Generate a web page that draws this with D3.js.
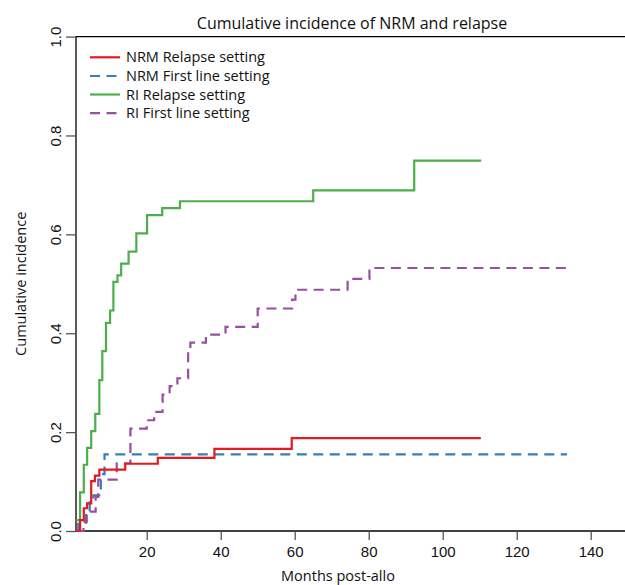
<!DOCTYPE html>
<html>
<head>
<meta charset="utf-8">
<script src="https://cdn.jsdelivr.net/npm/d3@7"></script>
<style>
  html, body { margin: 0; padding: 0; background: #fff; }
  svg { display: block; }
</style>
</head>
<body>
<div id="chart"></div>
<script>
// ---- Data ----
const seriesNames = ["NRM Relapse setting", "NRM First line setting", "RI Relapse setting", "RI First line setting"];
const seriesColors = ["#E41A1C", "#377EB8", "#4DAF4A", "#984EA3"];
const seriesDashed = [false, true, false, true];

const nrmRelapseTimes  = [1.0, 2.0, 3.0, 3.9, 5.0, 6.0, 7.2, 14.2, 23.0, 38.3, 59.2, 110.3];
const nrmRelapseValues = [0, 0.022, 0.046, 0.056, 0.101, 0.112, 0.124, 0.136, 0.148, 0.166, 0.188, 0.188];

const nrmFirstTimes  = [1.0, 1.5, 3.6, 4.6, 5.6, 7.6, 8.6, 133.6];
const nrmFirstValues = [0, 0.017, 0.040, 0.058, 0.072, 0.115, 0.155, 0.155];

const riRelapseTimes  = [0.9, 2.0, 3.0, 3.9, 5.0, 6.1, 7.2, 8.0, 9.0, 10.1, 11.0, 12.1, 13.1, 15.1, 17.2, 20.1, 24.2, 29.0, 65.0, 92.3, 110.4];
const riRelapseValues = [0.022, 0.078, 0.134, 0.168, 0.202, 0.237, 0.305, 0.364, 0.421, 0.446, 0.504, 0.517, 0.541, 0.565, 0.602, 0.639, 0.653, 0.667, 0.689, 0.749, 0.749];

const riFirstTimes  = [1.0, 2.9, 3.8, 6.2, 6.9, 11.9, 15.6, 20.0, 22.0, 24.3, 26.2, 28.3, 31.2, 31.8, 36.0, 41.3, 50.0, 59.3, 60.2, 74.3, 80.2, 134.0];
const riFirstValues = [0, 0.019, 0.039, 0.069, 0.104, 0.137, 0.207, 0.224, 0.241, 0.276, 0.293, 0.309, 0.362, 0.381, 0.397, 0.413, 0.450, 0.468, 0.488, 0.510, 0.532, 0.532];

const xTicks = [20, 40, 60, 80, 100, 120, 140];
const yTicks = [0, 0.2, 0.4, 0.6, 0.8, 1.0];

const titleText = "Cumulative incidence of NRM and relapse";
const xTitle = "Months post-allo";
const yTitle = "Cumulative incidence";

// ---- Drawing ----
const W = 625, H = 585;
const svg = d3.select("#chart").append("svg").attr("width", W).attr("height", H);

const x = d3.scaleLinear().domain([0, 140]).range([72.7, 590.7]);
const y = d3.scaleLinear().domain([0, 1]).range([531, 36.6]);

const frameLeft = 76, frameRight = 625;
const sansTick = "'Liberation Sans', Arial, sans-serif";
const sansText = "'Open Sans', 'Noto Sans', sans-serif";

// frame lines
svg.append("line").attr("x1", frameLeft).attr("x2", frameLeft).attr("y1", y(1)).attr("y2", y(0))
  .attr("stroke", "#000").attr("stroke-width", 1.3);
svg.append("line").attr("x1", frameLeft).attr("x2", frameRight).attr("y1", y(1)).attr("y2", y(1))
  .attr("stroke", "#000").attr("stroke-width", 1.3);
svg.append("line").attr("x1", frameLeft).attr("x2", frameRight).attr("y1", y(0)).attr("y2", y(0))
  .attr("stroke", "#000").attr("stroke-width", 1.3);

// x axis
const xAxis = d3.axisBottom(x).tickValues(xTicks).tickSize(9).tickPadding(6).tickFormat(d3.format("d"));
const gx = svg.append("g").attr("transform", `translate(0,${y(0)})`).call(xAxis);
gx.select(".domain").remove();
gx.selectAll(".tick line").attr("stroke", "#555").attr("stroke-width", 1.3);
gx.selectAll(".tick text").attr("font-family", sansTick).attr("font-size", 15).attr("fill", "#111");

// y axis
const yAxis = d3.axisLeft(y).tickValues(yTicks).tickSize(10).tickPadding(0).tickFormat(d3.format(".1f"));
const gy = svg.append("g").attr("transform", `translate(${frameLeft},0)`).call(yAxis);
gy.select(".domain").remove();
gy.selectAll(".tick line").attr("stroke", "#555").attr("stroke-width", 1.3);
gy.selectAll(".tick text")
  .attr("font-family", sansTick).attr("font-size", 15).attr("fill", "#111")
  .attr("x", null).attr("dy", null)
  .attr("text-anchor", "middle")
  .attr("transform", "translate(-15,0) rotate(-90)");

// series
const series = [
  { t: nrmRelapseTimes, v: nrmRelapseValues },
  { t: nrmFirstTimes, v: nrmFirstValues },
  { t: riRelapseTimes, v: riRelapseValues },
  { t: riFirstTimes, v: riFirstValues }
];
const line = d3.line().x(d => x(d[0])).y(d => y(d[1])).curve(d3.curveStepAfter);
// draw order: blue, purple, green, red on top
[1, 3, 2, 0].forEach(i => {
  const s = series[i];
  const pts = s.t.map((t, k) => [t, s.v[k]]);
  svg.append("path").datum(pts).attr("d", line)
    .attr("fill", "none")
    .attr("stroke", seriesColors[i])
    .attr("stroke-width", 2.2)
    .attr("stroke-dasharray", seriesDashed[i] ? "10,6.5" : null);
});

// legend
const legendY = [57.3, 76, 94.5, 113.2];
seriesNames.forEach((name, i) => {
  svg.append("line").attr("x1", 90).attr("x2", 120).attr("y1", legendY[i]).attr("y2", legendY[i])
    .attr("stroke", seriesColors[i]).attr("stroke-width", 2.2)
    .attr("stroke-dasharray", seriesDashed[i] ? "10,6.5" : null);
  svg.append("text").attr("x", 126).attr("y", legendY[i]).attr("dy", "0.35em")
    .attr("font-family", sansText).attr("font-size", 14.5).attr("fill", "#111").text(name);
});

// title
svg.append("text").attr("x", 352).attr("y", 29).attr("text-anchor", "middle")
  .attr("font-family", sansText).attr("font-size", 16).attr("fill", "#111").text(titleText);

// axis titles
svg.append("text").attr("x", 338).attr("y", 581).attr("text-anchor", "middle")
  .attr("font-family", sansText).attr("font-size", 14.5).attr("fill", "#111").text(xTitle);
svg.append("text").attr("transform", `translate(26,${(y(0) + y(1)) / 2}) rotate(-90)`)
  .attr("text-anchor", "middle")
  .attr("font-family", sansText).attr("font-size", 14.5).attr("fill", "#111").text(yTitle);
</script>
</body>
</html>
